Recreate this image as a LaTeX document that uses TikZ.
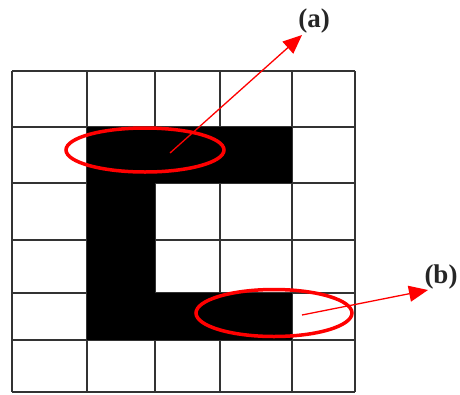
\documentclass[tikz,border=0pt]{standalone}
\usepackage{fontspec}
\setmainfont{Liberation Serif}
\usetikzlibrary{arrows.meta,shapes.geometric}
\begin{document}
\begin{tikzpicture}[x=1pt,y=-1pt,
  gridline/.style={line width=1.8pt,draw=black!80},
  blackcell/.style={fill=black},
  ring/.style={draw=red,line width=3.5pt,ellipse,inner sep=0pt},
  pointer/.style={draw=red,line width=1.3pt,-{Triangle[length=19pt,width=16pt]}},
  lbl/.style={font=\fontsize{27}{30}\selectfont\bfseries,text=black!85,inner sep=0pt}]
\useasboundingbox (0,0) rectangle (460,394);
% grid
\foreach \x in {12,87,155,220,292,355} \draw[gridline] (\x,71) -- (\x,392);
\foreach \y in {71,127,183,240,293,340,392} \draw[gridline] (12,\y) -- (355,\y);
% black cells
\fill[blackcell] (87,127) rectangle (292,183);
\fill[blackcell] (87,183) rectangle (155,293);
\fill[blackcell] (87,293) rectangle (292,340);
% ellipses
\node[ring,minimum width=158pt,minimum height=44pt] (ea) at (145,150) {};
\node[ring,minimum width=156pt,minimum height=47pt] (eb) at (274,313) {};
% labels
\node[lbl] (la) at (314,21) {(a)};
\node[lbl] (lb) at (441,277) {(b)};
% arrows
\coordinate (sa) at (170,153);
\coordinate (ta) at (302,35);
\coordinate (sb) at (302,315);
\coordinate (tb) at (428,290);
\draw[pointer] (sa) -- (ta);
\draw[pointer] (sb) -- (tb);
\end{tikzpicture}
\end{document}
